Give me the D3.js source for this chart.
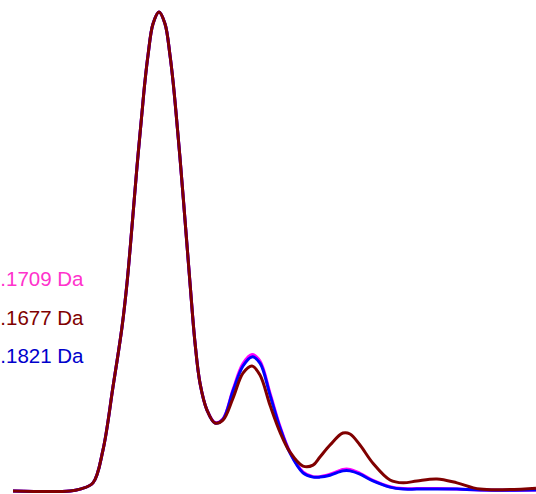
<!DOCTYPE html>
<html>
<head>
<meta charset="utf-8">
<script src="https://cdn.jsdelivr.net/npm/d3@7"></script>
<style>
  body { margin: 0; background: #fff; }
  svg { display: block; }
</style>
</head>
<body>
<div id="chart"></div>
<script>
// mass offset from the monoisotopic peak (Da)
const massOffset = [-1.570, -0.957, -0.849, -0.710, -0.602, -0.495, -0.398, -0.344, -0.290, -0.237,
  -0.183, -0.151, -0.118, -0.065, 0.000, 0.065, 0.118, 0.151, 0.183, 0.226,
  0.280, 0.333, 0.387, 0.441, 0.516, 0.602, 0.688, 0.796, 0.903, 1.000,
  1.086, 1.194, 1.301, 1.409, 1.548, 1.656, 1.731, 1.839, 1.978, 2.054,
  2.161, 2.301, 2.484, 2.624, 2.774, 2.989, 3.204, 3.452, 4.054];

// relative intensity (%)
const intensityA = [0, 0, 0.4, 1.7, 8.6, 21.7, 34.2, 43.4, 55.3, 67.6,
  79.0, 85.5, 91.0, 97.5, 100, 97.5, 91.0, 85.5, 79.0, 69.5,
  56.5, 43.5, 31.0, 22.5, 16.9, 14.3, 15.1, 21.2, 26.6, 28.5,
  27.1, 20.4, 13.5, 8.1, 4.0, 3.0, 3.0, 3.5, 4.5, 4.5,
  3.7, 2.2, 0.9, 0.5, 0.5, 0.5, 0.4, 0.2, 0.2];

const intensityB = [0, 0, 0.4, 1.7, 8.6, 21.7, 34.2, 43.4, 55.3, 67.6,
  79.0, 85.5, 91.0, 97.5, 100, 97.5, 91.0, 85.5, 79.0, 69.5,
  56.5, 43.5, 31.0, 22.5, 16.9, 14.2, 14.8, 19.4, 24.6, 26.1,
  24.2, 17.9, 12.3, 8.1, 5.2, 5.4, 7.1, 9.6, 12.1, 11.9,
  9.6, 5.8, 2.3, 1.7, 2.1, 2.5, 1.7, 0.4, 0.6];

const intensityC = [0, 0, 0.4, 1.7, 8.6, 21.7, 34.2, 43.4, 55.3, 67.6,
  79.0, 85.5, 91.0, 97.5, 100, 97.5, 91.0, 85.5, 79.0, 69.5,
  56.5, 43.5, 31.0, 22.5, 16.9, 14.2, 15.0, 20.9, 26.1, 28.0,
  26.7, 20.0, 13.2, 7.9, 3.8, 2.9, 2.9, 3.3, 4.2, 4.2,
  3.5, 2.1, 0.8, 0.4, 0.4, 0.4, 0.4, 0.2, 0.2];

const labels = [".1709 Da", ".1677 Da", ".1821 Da"];
const lineColors = ["#ff00ff", "#800000", "#0000ff"];
const textColors = ["#ff33cc", "#800000", "#0000cc"];

const width = 536, height = 494;

const svg = d3.select("#chart").append("svg")
  .attr("width", width)
  .attr("height", height);

const x = d3.scaleLinear()
  .domain([-1.570, 4.054])
  .range([13, 536]);

const y = d3.scaleLinear()
  .domain([0, 100])
  .range([491, 12]);

const line = d3.line()
  .x((d, i) => x(massOffset[i]))
  .y(d => y(d))
  .curve(d3.curveCatmullRom.alpha(0.5));

// magenta and blue first, dark red on top
const order = [0, 2, 1];
const series = [intensityA, intensityB, intensityC];

order.forEach(k => {
  svg.append("path")
    .attr("d", line(series[k]))
    .attr("fill", "none")
    .attr("stroke", lineColors[k])
    .attr("stroke-width", 3)
    .attr("stroke-linejoin", "round");
});

// legend labels, cut at the left edge
svg.selectAll("text.lbl")
  .data(labels)
  .join("text")
  .attr("class", "lbl")
  .attr("x", 83.5)
  .attr("y", (d, i) => 286 + i * 38.5)
  .attr("text-anchor", "end")
  .attr("font-family", "Liberation Sans, Arial, sans-serif")
  .attr("font-size", 20.5)
  .attr("fill", (d, i) => textColors[i])
  .text(d => d);
</script>
</body>
</html>
